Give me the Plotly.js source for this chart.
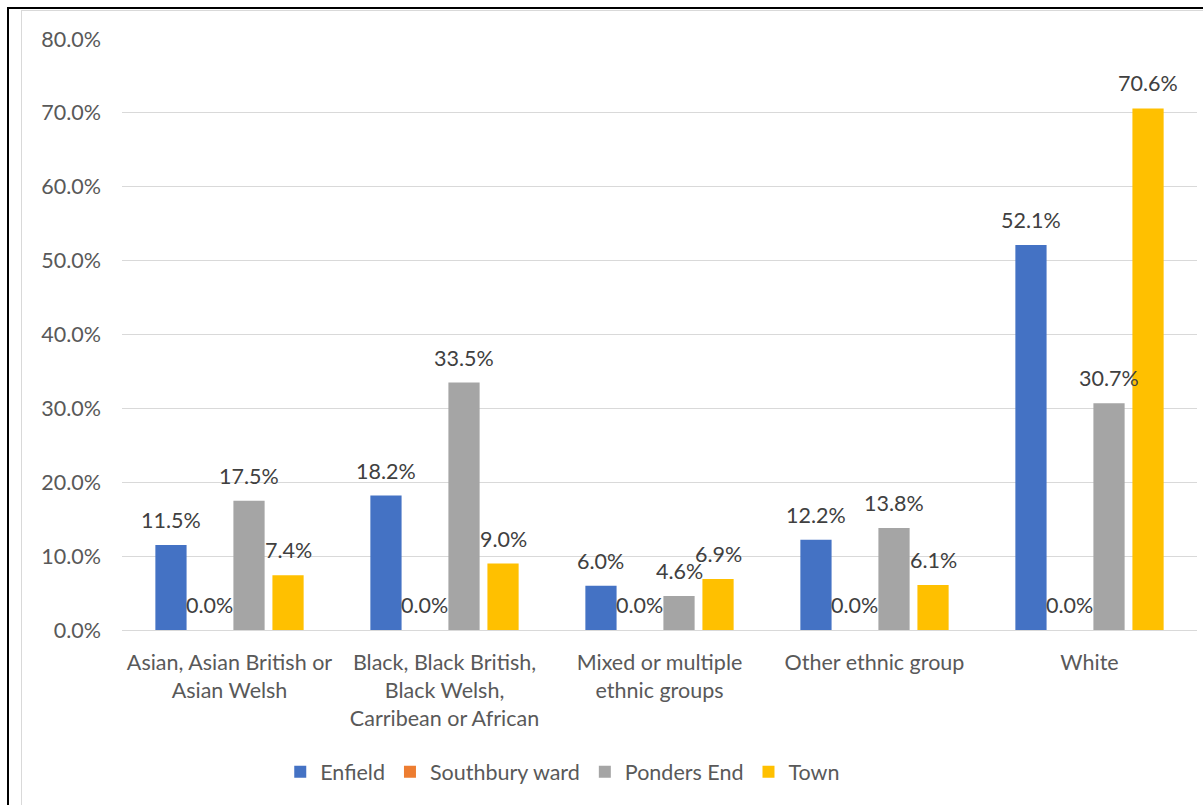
<!DOCTYPE html>
<html>
<head>
<meta charset="utf-8">
<script src="https://cdn.plot.ly/plotly-3.0.1.min.js"></script>
<style>
  html, body { margin: 0; padding: 0; background: #fff; }
  #wrap { position: relative; width: 1203px; height: 805px; }
  #chart { position: absolute; left: 0; top: 0; width: 1203px; height: 805px; }
  #outer { position: absolute; left: 7px; top: 7px; right: 0; bottom: 0; border-left: 2px solid #000; border-top: 2px solid #000; pointer-events: none; }
  #inner { position: absolute; left: 21px; top: 10px; right: 0; bottom: 0; border-left: 1px solid #d9d9d9; border-top: 1px solid #d9d9d9; pointer-events: none; }
</style>
</head>
<body>
<div id="wrap">
  <div id="chart"></div>
  <div id="outer"></div>
  <div id="inner"></div>
</div>
<script>
const categories = [
  "Asian, Asian British or<br>Asian Welsh",
  "Black, Black British,<br>Black Welsh,<br>Carribean or African",
  "Mixed or multiple<br>ethnic groups",
  "Other ethnic group",
  "White"
];
const seriesNames = ["Enfield", "Southbury ward", "Ponders End", "Town"];
const enfield   = [11.5, 18.2, 6.0, 12.2, 52.1];
const southbury = [0.0, 0.0, 0.0, 0.0, 0.0];
const pondersEnd = [17.5, 33.5, 4.6, 13.8, 30.7];
const town      = [7.4, 9.0, 6.9, 6.1, 70.6];
const yTickVals = [0, 10, 20, 30, 40, 50, 60, 70, 80];

const seriesValues = [enfield, southbury, pondersEnd, town];
const colors = ["#4472C4", "#ED7D31", "#A5A5A5", "#FFC000"];

const FONT = "Lato, 'Open Sans', sans-serif";
const FS = 21.5;
const W = 1203, H = 805;
const margin = {l: 122, r: 6, t: 39, b: 175};
const bargap = 0.274, bargroupgap = 0.2;

const traces = seriesValues.map((vals, i) => ({
  type: "bar",
  name: seriesNames[i],
  x: categories,
  y: vals,
  marker: {color: colors[i]},
  hoverinfo: "x+y+name"
}));

// Data labels as annotations placed above each bar (Excel "outside end" style)
const plotW = W - margin.l - margin.r;
const slotW = plotW / categories.length * (1 - bargap) / seriesValues.length;
const annotations = [];
seriesValues.forEach((vals, i) => {
  vals.forEach((v, j) => {
    annotations.push({
      x: categories[j], y: v, xref: "x", yref: "y",
      text: v.toFixed(1) + "%",
      showarrow: false,
      xanchor: "center", yanchor: "middle",
      xshift: (i - (seriesValues.length - 1) / 2) * slotW,
      yshift: 25,
      font: {family: FONT, size: FS, color: "#404040"}
    });
  });
});

const layout = {
  width: W, height: H,
  margin: margin,
  paper_bgcolor: "#fff", plot_bgcolor: "#fff",
  barmode: "group",
  bargap: bargap, bargroupgap: bargroupgap,
  showlegend: true,
  legend: {
    orientation: "h", x: 0.41, xanchor: "center", y: -0.24, yanchor: "middle",
    font: {family: FONT, size: FS, color: "#595959"},
    traceorder: "normal", itemwidth: 30
  },
  xaxis: {
    type: "category",
    tickfont: {family: FONT, size: FS, color: "#595959"},
    showgrid: false, showline: true, linecolor: "#d9d9d9", linewidth: 1,
    ticks: "", ticklabelstandoff: 13,
    fixedrange: true
  },
  yaxis: {
    range: [0, 80], tickvals: yTickVals,
    ticktext: yTickVals.map(v => v.toFixed(1) + "%"),
    tickfont: {family: FONT, size: FS, color: "#595959"},
    showgrid: true, gridcolor: "#d9d9d9", gridwidth: 1,
    zeroline: true, zerolinecolor: "#d9d9d9", zerolinewidth: 1,
    showline: false, ticks: "", ticklabelstandoff: 20,
    fixedrange: true
  },
  annotations: annotations,
  font: {family: FONT}
};

Plotly.newPlot("chart", traces, layout, {displayModeBar: false, staticPlot: true});
</script>
</body>
</html>
